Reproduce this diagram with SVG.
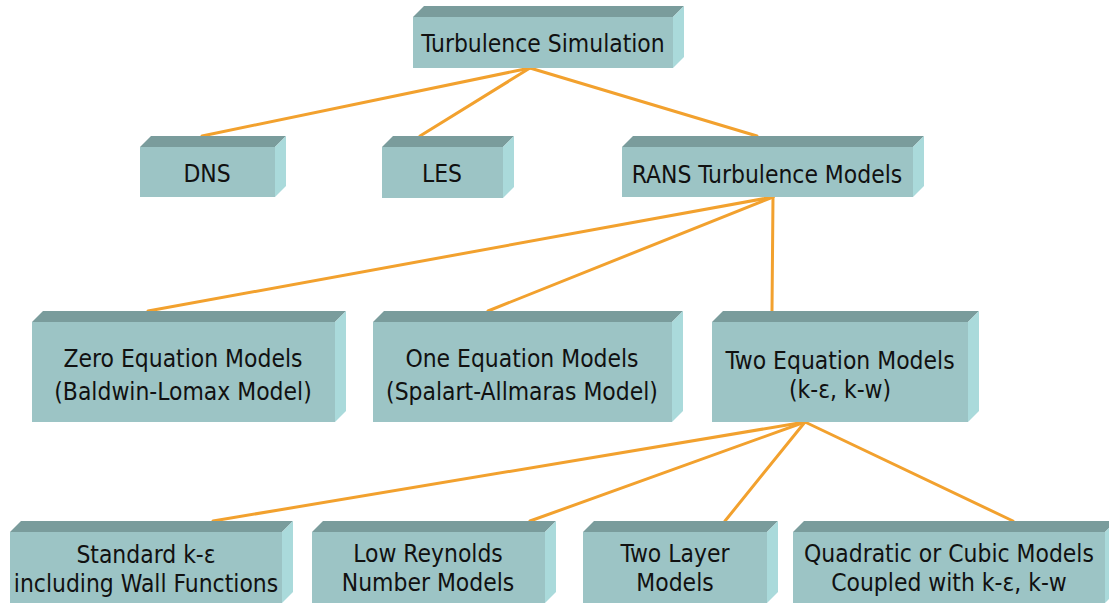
<svg xmlns="http://www.w3.org/2000/svg" width="1109" height="604" viewBox="0 0 1109 604">
<style>
.front{fill:#9CC4C5;}
.top{fill:#7A9C9C;}
.side{fill:#AADADB;}
.lbl{font-family:"DejaVu Sans Condensed","DejaVu Sans","Liberation Sans",sans-serif;font-stretch:condensed;font-size:24.4px;fill:#111;text-anchor:middle;}
.conn line{stroke:#F2A12E;stroke-width:3;stroke-linecap:round;}
</style>
<rect width="1109" height="604" fill="#ffffff"/>
<g id="connectors" class="conn">
<line x1="530" y1="68" x2="202" y2="136"/>
<line x1="530" y1="68" x2="420" y2="136"/>
<line x1="530" y1="68" x2="757" y2="136"/>
<line x1="773" y1="197" x2="148" y2="311"/>
<line x1="773" y1="197" x2="488" y2="311"/>
<line x1="773" y1="197" x2="772" y2="311"/>
<line x1="805" y1="422" x2="213" y2="521"/>
<line x1="805" y1="422" x2="530" y2="521"/>
<line x1="805" y1="422" x2="725" y2="521"/>
<line x1="805" y1="422" x2="1013" y2="521"/>
</g>
<g id="node-turbulence">
<rect class="front" x="413" y="17" width="260" height="51"/>
<path class="top" d="M413,17 L424,6 L684,6 L673,17 Z"/>
<path class="side" d="M673,17 L684,6 L684,57 L673,68 Z"/>
<text class="lbl" x="543" y="52">Turbulence Simulation</text>
</g>
<g id="node-dns">
<rect class="front" x="140" y="147" width="135" height="50"/>
<path class="top" d="M140,147 L151,136 L286,136 L275,147 Z"/>
<path class="side" d="M275,147 L286,136 L286,186 L275,197 Z"/>
<text class="lbl" x="207" y="182">DNS</text>
</g>
<g id="node-les">
<rect class="front" x="382" y="147" width="121" height="51"/>
<path class="top" d="M382,147 L393,136 L514,136 L503,147 Z"/>
<path class="side" d="M503,147 L514,136 L514,187 L503,198 Z"/>
<text class="lbl" x="442" y="182">LES</text>
</g>
<g id="node-rans">
<rect class="front" x="622" y="147" width="291" height="50"/>
<path class="top" d="M622,147 L633,136 L924,136 L913,147 Z"/>
<path class="side" d="M913,147 L924,136 L924,186 L913,197 Z"/>
<text class="lbl" x="767" y="183">RANS Turbulence Models</text>
</g>
<g id="node-zero">
<rect class="front" x="32" y="322" width="303" height="100"/>
<path class="top" d="M32,322 L43,311 L346,311 L335,322 Z"/>
<path class="side" d="M335,322 L346,311 L346,411 L335,422 Z"/>
<text class="lbl" x="183" y="367">Zero Equation Models</text>
<text class="lbl" x="183" y="400">(Baldwin-Lomax Model)</text>
</g>
<g id="node-one">
<rect class="front" x="373" y="322" width="299" height="100"/>
<path class="top" d="M373,322 L384,311 L683,311 L672,322 Z"/>
<path class="side" d="M672,322 L683,311 L683,411 L672,422 Z"/>
<text class="lbl" x="522" y="367">One Equation Models</text>
<text class="lbl" x="522" y="400">(Spalart-Allmaras Model)</text>
</g>
<g id="node-two">
<rect class="front" x="712" y="322" width="256" height="100"/>
<path class="top" d="M712,322 L723,311 L979,311 L968,322 Z"/>
<path class="side" d="M968,322 L979,311 L979,411 L968,422 Z"/>
<text class="lbl" x="840" y="369">Two Equation Models</text>
<text class="lbl" x="840" y="398">(k-ε, k-w)</text>
</g>
<g id="node-standard">
<rect class="front" x="10" y="532" width="272" height="71"/>
<path class="top" d="M10,532 L21,521 L293,521 L282,532 Z"/>
<path class="side" d="M282,532 L293,521 L293,592 L282,603 Z"/>
<text class="lbl" x="146" y="563">Standard k-ε</text>
<text class="lbl" x="146" y="592">including Wall Functions</text>
</g>
<g id="node-lowre">
<rect class="front" x="312" y="532" width="233" height="71"/>
<path class="top" d="M312,532 L323,521 L556,521 L545,532 Z"/>
<path class="side" d="M545,532 L556,521 L556,592 L545,603 Z"/>
<text class="lbl" x="428" y="562">Low Reynolds</text>
<text class="lbl" x="428" y="591">Number Models</text>
</g>
<g id="node-twolayer">
<rect class="front" x="583" y="532" width="184" height="71"/>
<path class="top" d="M583,532 L594,521 L778,521 L767,532 Z"/>
<path class="side" d="M767,532 L778,521 L778,592 L767,603 Z"/>
<text class="lbl" x="675" y="562">Two Layer</text>
<text class="lbl" x="675" y="591">Models</text>
</g>
<g id="node-quadratic">
<rect class="front" x="793" y="532" width="312" height="71"/>
<path class="top" d="M793,532 L804,521 L1116,521 L1105,532 Z"/>
<path class="side" d="M1105,532 L1116,521 L1116,592 L1105,603 Z"/>
<text class="lbl" x="949" y="562">Quadratic or Cubic Models</text>
<text class="lbl" x="949" y="591">Coupled with k-ε, k-w</text>
</g>
</svg>
